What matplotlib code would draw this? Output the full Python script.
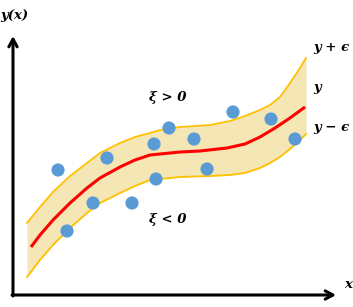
import numpy as np
import matplotlib
matplotlib.use('Agg')
import matplotlib.pyplot as plt

# picture works in pixel units, y grows downward
band_x = [27, 40, 53, 70, 87, 100, 120, 135, 150, 160, 180, 210, 230, 245, 260, 270, 280, 290, 298, 306]
upper_y = [223, 207, 192, 176, 163, 153, 143, 137, 133, 130, 127, 125, 121, 116, 110, 105, 97, 83, 71, 58]
lower_y = [277, 260, 245, 228, 213, 203, 193, 186, 180, 179, 177, 176, 175, 173, 168, 163, 157, 149, 142, 134]

center_x = [31, 40, 53, 70, 87, 100, 120, 135, 150, 160, 180, 200, 227, 245, 260, 275, 290, 305]
center_y = [247, 235, 220, 203, 188, 178, 167, 160, 155, 154, 152, 151, 148, 144, 137, 128, 118, 107]

pts_x = [58, 107, 154, 169, 194, 233, 271, 295, 207, 156, 93, 132, 67]
pts_y = [170, 158, 144, 128, 139, 112, 119, 139, 169, 179, 203, 203, 231]

fig = plt.figure(figsize=(3.53, 3.07), dpi=100)
ax = fig.add_axes([0, 0, 1, 1])
ax.set_xlim(0, 353)
ax.set_ylim(307, 0)
ax.axis('off')

# tolerance band
ax.fill_between(band_x, upper_y, lower_y, color='#f5e6b6', lw=0, zorder=1)
ax.plot(band_x, upper_y, color='#ffc000', lw=1.3, zorder=2)
ax.plot(band_x, lower_y, color='#ffc000', lw=1.3, zorder=2)

# regression line
ax.plot(center_x, center_y, color='#ff0000', lw=2.2, solid_capstyle='butt', zorder=3)

# samples
ax.scatter(pts_x, pts_y, s=90, color='#5b9bd5', edgecolors='none', zorder=4)

# axes arrows
arrow = dict(arrowstyle='->,head_length=0.55,head_width=0.3', lw=2.2, color='black',
             shrinkA=0, shrinkB=0)
ax.annotate('', xy=(13, 36), xytext=(13, 296), arrowprops=arrow)
ax.annotate('', xy=(336, 295), xytext=(12, 295), arrowprops=arrow)

txt = dict(family='DejaVu Serif', fontsize=9.5, fontweight='bold', fontstyle='italic', color='black')
ax.text(0, 15, 'y(x)', ha='left', va='center', **txt)
ax.text(344, 285, 'x', ha='left', va='center', **txt)
ax.text(168, 97, 'ξ > 0', ha='center', va='center', **txt)
ax.text(168, 220, 'ξ < 0', ha='center', va='center', **txt)
ax.text(313, 47, 'y + ϵ', ha='left', va='center', **txt)
ax.text(313, 88, 'y', ha='left', va='center', **txt)
ax.text(313, 128, 'y − ϵ', ha='left', va='center', **txt)

fig.savefig('out.png', dpi=100)
